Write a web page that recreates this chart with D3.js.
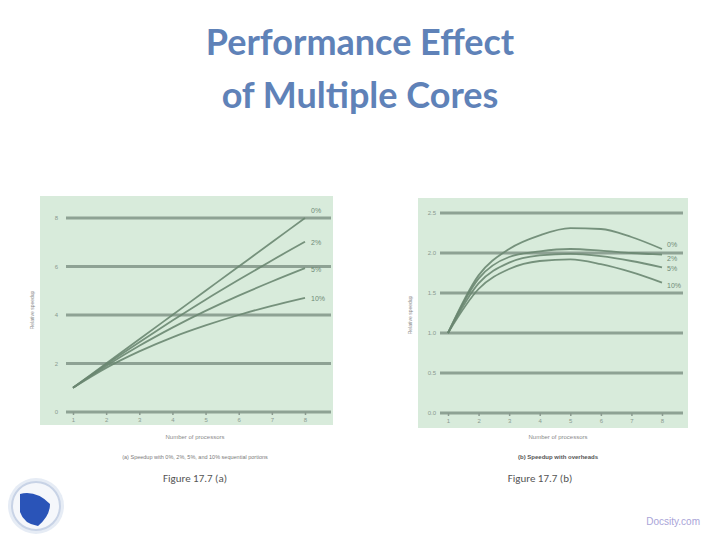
<!DOCTYPE html>
<html><head><meta charset="utf-8">
<script src="https://cdn.jsdelivr.net/npm/d3@7"></script>
<style>body{margin:0;background:#fff;}svg{display:block;}</style>
</head><body>
<svg id="c" width="720" height="540"></svg>
<script>
// ---- data ----
const processors = [1, 2, 3, 4, 5, 6, 7, 8];
const seqLabels = ["0%", "2%", "5%", "10%"];
// (a) speedup with sequential portions
const speedupA0  = [1, 2.00, 3.00, 4.00, 5.00, 6.00, 7.00, 8.00];
const speedupA2  = [1, 1.96, 2.88, 3.77, 4.63, 5.45, 6.25, 7.02];
const speedupA5  = [1, 1.90, 2.73, 3.48, 4.17, 4.80, 5.38, 5.93];
const speedupA10 = [1, 1.82, 2.50, 3.08, 3.57, 4.00, 4.38, 4.71];
// (b) speedup with overheads
const speedupB0  = [1, 1.72, 2.05, 2.22, 2.31, 2.30, 2.20, 2.05];
const speedupB2  = [1, 1.68, 1.95, 2.02, 2.05, 2.03, 2.00, 1.98];
const speedupB5  = [1, 1.62, 1.88, 1.97, 1.99, 1.96, 1.90, 1.82];
const speedupB10 = [1, 1.55, 1.80, 1.90, 1.92, 1.86, 1.76, 1.63];
const yTicksA = [0, 2, 4, 6, 8];
const yTicksB = [0, 0.5, 1.0, 1.5, 2.0, 2.5];

const svg = d3.select("#c");
const titleColor = "#5f82b8";
svg.append("text").attr("x", 360).attr("y", 55).attr("text-anchor", "middle")
  .attr("font-family", "Lato, 'Open Sans', sans-serif").attr("font-weight", "bold")
  .attr("font-size", 36).attr("fill", titleColor).text("Performance Effect");
svg.append("text").attr("x", 360).attr("y", 108).attr("text-anchor", "middle")
  .attr("font-family", "Lato, 'Open Sans', sans-serif").attr("font-weight", "bold")
  .attr("font-size", 36).attr("fill", titleColor).text("of Multiple Cores");

function chart(cfg) {
  const g = svg.append("g");
  g.append("rect").attr("x", cfg.panel[0]).attr("y", cfg.panel[1])
    .attr("width", cfg.panel[2]).attr("height", cfg.panel[3]).attr("fill", "#d8ebdb");
  const x = d3.scaleLinear().domain([1, 8]).range(cfg.xr);
  const y = d3.scaleLinear().domain([0, cfg.ymax]).range(cfg.yr);
  // gridlines
  g.selectAll(".grid").data(cfg.yticks).join("line")
    .attr("x1", cfg.gx[0]).attr("x2", cfg.gx[1])
    .attr("y1", d => y(d)).attr("y2", d => y(d))
    .attr("stroke", "#8ea294").attr("stroke-width", 3);
  // y tick labels
  g.selectAll(".yl").data(cfg.yticks).join("text")
    .attr("x", cfg.ylx).attr("y", d => y(d) + 2).attr("text-anchor", "end")
    .attr("font-family", "Arial, sans-serif").attr("font-size", 6).attr("fill", "#8a9a8f")
    .text(d => cfg.fmt(d));
  // x tick labels
  const xAxis = d3.axisBottom(x).tickValues(processors).tickSize(3).tickFormat(d3.format("d"));
  const ax = g.append("g").attr("transform", `translate(0,${y(0)})`).call(xAxis);
  ax.select(".domain").remove();
  ax.selectAll("line").attr("stroke", "#8a9a8f").attr("stroke-width", 1.5);
  ax.selectAll("text").attr("font-size", 6).attr("fill", "#8a9a8f").attr("font-family", "Arial, sans-serif");
  // lines
  const line = d3.line().x((d, i) => x(processors[i])).y(d => y(d)).curve(d3.curveMonotoneX);
  cfg.series.forEach((s, k) => {
    g.append("path").attr("d", line(s)).attr("fill", "none")
      .attr("stroke", "#6a8771").attr("stroke-width", 1.8).attr("opacity", 0.9);
    g.append("text").attr("x", x(8) + cfg.labDx).attr("y", y(s[7]) + cfg.labDy[k])
      .attr("font-family", "Arial, sans-serif").attr("font-size", 7).attr("fill", "#6f8a76")
      .text(seqLabels[k]);
  });
  // y axis title
  g.append("text").attr("transform", `translate(${cfg.ytx},${cfg.yty}) rotate(-90)`)
    .attr("text-anchor", "middle").attr("font-family", "Arial, sans-serif").attr("font-size", 5)
    .attr("fill", "#8a8a8a").text("Relative speedup");
  // x axis title + captions
  g.append("text").attr("x", cfg.cx).attr("y", 439).attr("text-anchor", "middle")
    .attr("font-family", "Arial, sans-serif").attr("font-size", 6).attr("fill", "#8a8a8a")
    .text("Number of processors");
  g.append("text").attr("x", cfg.cx).attr("y", 459).attr("text-anchor", "middle")
    .attr("font-family", "Arial, sans-serif").attr("font-size", cfg.capSize)
    .attr("font-weight", cfg.capWeight).attr("fill", cfg.capColor).text(cfg.caption);
  g.append("text").attr("x", cfg.fx).attr("y", 482).attr("text-anchor", "middle")
    .attr("font-family", "Calibri, Carlito, 'Liberation Sans', sans-serif").attr("font-size", 11)
    .attr("fill", "#555").text(cfg.fig);
}

chart({
  panel: [40, 196, 293, 229], xr: [73, 305], yr: [412, 218], ymax: 8,
  yticks: yTicksA, gx: [66, 331], ylx: 58, fmt: d3.format("d"),
  series: [speedupA0, speedupA2, speedupA5, speedupA10], labDx: 6, labDy: [-5, 3, 4, 3],
  ytx: 34, yty: 310, cx: 195, caption: "(a) Speedup with 0%, 2%, 5%, and 10% sequential portions",
  capSize: 5.5, capWeight: "normal", capColor: "#7a7a7a", fx: 195, fig: "Figure 17.7 (a)"
});
chart({
  panel: [418, 198, 270, 230], xr: [448, 662], yr: [413, 213], ymax: 2.5,
  yticks: yTicksB, gx: [440, 683], ylx: 436, fmt: d3.format(".1f"),
  series: [speedupB0, speedupB2, speedupB5, speedupB10], labDx: 5, labDy: [-2, 6, 4, 5],
  ytx: 412, yty: 315, cx: 558, caption: "(b) Speedup with overheads",
  capSize: 6, capWeight: "bold", capColor: "#555", fx: 540, fig: "Figure 17.7 (b)"
});

// logo
const logo = svg.append("g");
logo.append("circle").attr("cx", 36).attr("cy", 506).attr("r", 28).attr("fill", "#e6ecf5");
logo.append("circle").attr("cx", 36).attr("cy", 506).attr("r", 24).attr("fill", "#f5f7fb").attr("stroke", "#c8d3e6").attr("stroke-width", 2);
logo.append("path").attr("d", "M20,494 Q36,490 50,504 Q50,516 38,526 Q24,524 20,512 Z").attr("fill", "#2a54b8");
// watermark
svg.append("text").attr("x", 700).attr("y", 525).attr("text-anchor", "end")
  .attr("font-family", "Arial, sans-serif").attr("font-size", 10).attr("fill", "#a9a4d8")
  .text("Docsity.com");
</script>
</body></html>
